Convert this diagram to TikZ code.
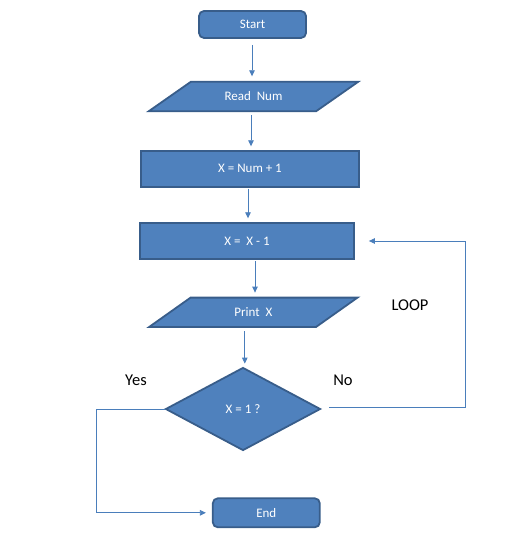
\documentclass[tikz,border=0pt]{standalone}
\usepackage{fontspec}
\setmainfont{Carlito}
\usetikzlibrary{shapes.geometric,arrows.meta,backgrounds,calc}
\definecolor{boxfill}{HTML}{4F81BD}
\definecolor{boxline}{HTML}{385D8A}
\definecolor{conn}{HTML}{4A7EBB}
\tikzset{
  x=1pt, y=-1pt,
  boxtext/.style={text=white, font=\fontsize{13}{15}\selectfont, inner sep=0pt},
  term/.style={boxtext, draw=boxline, fill=boxfill, line width=1.8pt, rounded corners=5pt},
  proc/.style={boxtext, draw=boxline, fill=boxfill, line width=1.8pt},
  pgram/.style={boxtext, minimum height=29pt},
  pgramshape/.style={draw=boxline, fill=boxfill, line width=1.8pt, line join=miter},
  dec/.style={boxtext, diamond, draw=boxline, fill=boxfill, line width=1.8pt, minimum width=155pt, minimum height=83pt},
  arr/.style={draw=conn, line width=0.8pt, -{Triangle[length=6pt,width=5.5pt]}},
  lab/.style={font=\fontsize{16.5}{19}\selectfont, text=black}
}
\begin{document}
\begin{tikzpicture}
\useasboundingbox (0,0) rectangle (531,545);
\node[term, minimum width=107pt, minimum height=27pt] (start) at (252.5,24.5) {Start};
\node[pgram, minimum width=209pt] (rn) at (253.5,96.5) {Read\ \ Num};
\node[proc, minimum width=218pt, minimum height=36pt] (calc) at (250,168.7) {X = Num + 1};
\node[proc, minimum width=214pt, minimum height=36.6pt] (dec1) at (247,241) {X =\ \ X - 1};
\node[pgram, minimum width=208pt] (px) at (253.3,312.3) {Print\ \ X};
\node[dec] (cond) at (243,409) {X = 1 ?};
\node[term, minimum width=107pt, minimum height=29pt] (fin) at (266.3,512.8) {End};
\begin{pgfonlayer}{background}
\draw[pgramshape] ([xshift=42pt]rn.north west) -- (rn.north east) -- ([xshift=-42pt]rn.south east) -- (rn.south west) -- cycle;
\draw[pgramshape] ([xshift=41.5pt]px.north west) -- (px.north east) -- ([xshift=-41.5pt]px.south east) -- (px.south west) -- cycle;
\end{pgfonlayer}
\draw[arr] ([xshift=-0.5pt,yshift=-6pt]start.south) coordinate (p1) -- ($(p1 |- rn.north)+(0,-5.5)$);
\draw[arr] ([xshift=-2.5pt,yshift=-4pt]rn.south) coordinate (p2) -- ($(p2 |- calc.north)+(0,-3.5)$);
\draw[arr] ([xshift=-2pt,yshift=-1pt]calc.south) coordinate (p3) -- ($(p3 |- dec1.north)+(0,-3.5)$);
\draw[arr] ([xshift=8pt,yshift=-1pt]dec1.south) coordinate (p4) -- ($(p4 |- px.north)+(0,-5)$);
\draw[arr] ([xshift=-8.5pt,yshift=-4pt]px.south) coordinate (p5) -- ($(p5 |- cond.north)+(0,-3)$);
\coordinate (loopc) at (465,241);
\draw[arr] ([xshift=8pt,yshift=2pt]cond.east) -| (loopc) -- ([xshift=14pt]dec1.east |- loopc);
\draw[arr] (cond.west) -| (96,512.8) -- ([xshift=-6pt]fin.west);
\node[lab] (yes) at (136,380) {Yes};
\node[lab] (no) at (343,380) {No};
\node[lab] (loop) at (410,305) {LOOP};
\end{tikzpicture}
\end{document}
